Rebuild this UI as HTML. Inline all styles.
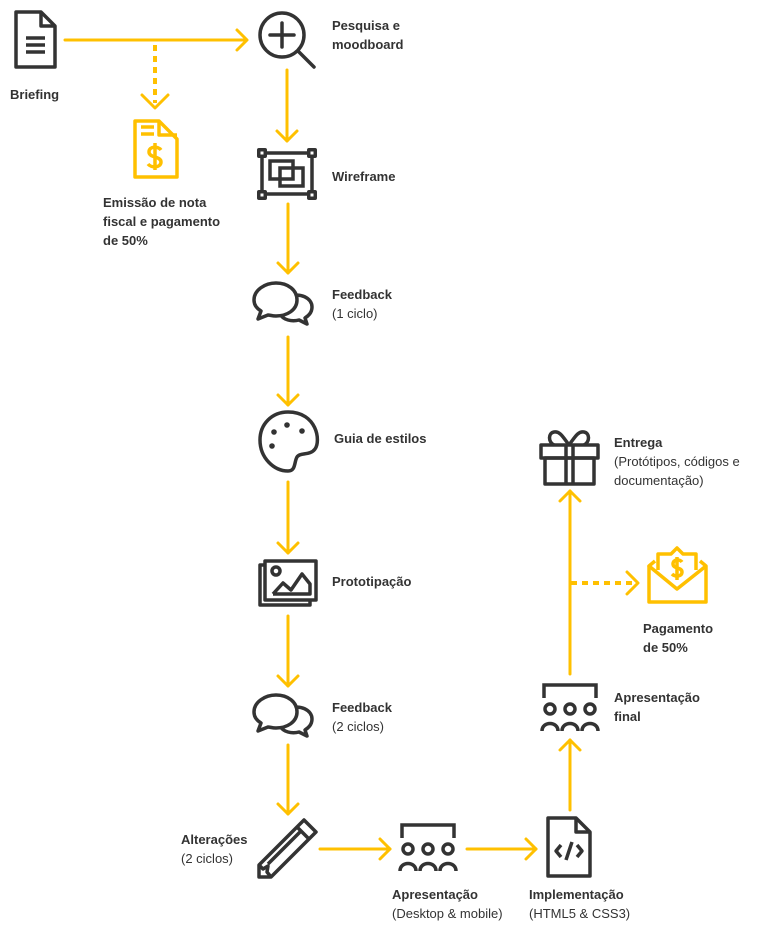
<!DOCTYPE html>
<html><head><meta charset="utf-8"><style>
html,body{margin:0;padding:0;background:#fff;}
svg{display:block;}
text{font-family:"Liberation Sans",sans-serif;font-size:13px;fill:#333;}
.b{font-weight:bold;}
</style></head><body>
<svg width="763" height="935" viewBox="0 0 763 935" xmlns="http://www.w3.org/2000/svg">
<g fill="none" stroke="#FFC000" stroke-width="3" stroke-linecap="round" stroke-linejoin="round">
<line x1="65" y1="40" x2="246" y2="40"/><polyline points="237,30 247,40 237,50"/>
<line x1="155" y1="45" x2="155" y2="103" stroke-dasharray="6,5" stroke-linecap="butt" stroke-width="4"/><polyline points="142,95 155,108 168,95"/>
<line x1="287" y1="70" x2="287" y2="141"/><polyline points="277,131 287,141 297,131"/>
<line x1="288" y1="204" x2="288" y2="273"/><polyline points="278,263 288,273 298,263"/>
<line x1="288" y1="337" x2="288" y2="405"/><polyline points="278,395 288,405 298,395"/>
<line x1="288" y1="482" x2="288" y2="553"/><polyline points="278,543 288,553 298,543"/>
<line x1="288" y1="616" x2="288" y2="686"/><polyline points="278,676 288,686 298,676"/>
<line x1="288" y1="745" x2="288" y2="814"/><polyline points="278,804 288,814 298,804"/>
<line x1="320" y1="849" x2="390" y2="849"/><polyline points="380,839 390,849 380,859"/>
<line x1="467" y1="849" x2="536" y2="849"/><polyline points="526,839 536,849 526,859"/>
<line x1="570" y1="810" x2="570" y2="740"/><polyline points="560,750 570,740 580,750"/>
<line x1="570" y1="674" x2="570" y2="491"/><polyline points="560,501 570,491 580,501"/>
<line x1="571" y1="583" x2="634" y2="583" stroke-dasharray="6,5" stroke-linecap="butt" stroke-width="4"/><polyline points="627,572 638,583 627,594"/>
</g>

<g fill="none" stroke="#333" stroke-width="3.5" stroke-linejoin="round">
<path d="M16,12 H41 L55,26 V67 H16 Z"/><path d="M41,12 V26 H55"/>
<line x1="26" y1="38" x2="45" y2="38"/><line x1="26" y1="45" x2="45" y2="45"/><line x1="26" y1="52" x2="45" y2="52"/>
</g>
<g fill="none" stroke="#FFC000" stroke-width="3.5" stroke-linejoin="round">
<path d="M135,121 H159 L177,139 V177 H135 Z"/><path d="M159,121 V135 H177"/>
<line x1="141" y1="127" x2="154" y2="127"/><line x1="141" y1="134" x2="154" y2="134"/>
<path d="M161,150 C158,146 149,146 149,152 C149,158 161,156 161,162 C161,168 151,168 148,164"/><line x1="155" y1="143" x2="155" y2="170"/>
</g>
<g fill="none" stroke="#333" stroke-width="3.5" stroke-linecap="round">
<circle cx="282" cy="35" r="22"/><line x1="282" y1="23" x2="282" y2="47"/><line x1="270" y1="35" x2="294" y2="35"/>
<line x1="298" y1="51" x2="314" y2="67"/>
</g>
<g fill="none" stroke="#333" stroke-width="3.5">
<rect x="262" y="153" width="50" height="41"/>
<rect x="270" y="161" width="23" height="18"/><rect x="280" y="168" width="23" height="18"/>
</g>
<g fill="#333"><rect x="257" y="148" width="10" height="10" rx="2"/><rect x="307" y="148" width="10" height="10" rx="2"/><rect x="257" y="190" width="10" height="10" rx="2"/><rect x="307" y="190" width="10" height="10" rx="2"/></g>
<g fill="#fff"><rect x="260.5" y="151.5" width="3" height="3"/><rect x="310.5" y="151.5" width="3" height="3"/><rect x="260.5" y="193.5" width="3" height="3"/><rect x="310.5" y="193.5" width="3" height="3"/></g>
<g id="fb" fill="#fff" stroke="#333" stroke-width="3.5" stroke-linejoin="round">
<path d="M289,297 C300,292 312,298 312,307 C312,313 308,316 305,318 L307,324 L299,320 C292,322 283,320 280,314"/>
<path d="M254,300 C254,290 265,283 276,283 C288,283 297,290 297,300 C297,310 287,316 276,316 C272,316 270,315 268,315 L258,319 L261,311 C256,308 254,304 254,300 Z"/>
</g>
<use href="#fb" transform="translate(0,412)"/>
<g fill="none" stroke="#333" stroke-width="3.5" stroke-linejoin="round">
<path d="M288,412 C272,412 260,424 260,440 C260,458 274,471 288,471 C296,471 294,462 297,457 C300,452 310,456 315,449 C321,441 317,412 288,412 Z"/>
</g>
<g fill="#333"><circle cx="274" cy="432" r="2.8"/><circle cx="287" cy="425" r="2.8"/><circle cx="302" cy="431" r="2.8"/><circle cx="272" cy="446" r="2.8"/></g>
<g fill="none" stroke="#333" stroke-width="3.5" stroke-linejoin="round">
<path d="M264,565 H260 V605 H310 V601"/>
<rect x="265" y="561" width="51" height="39"/>
<circle cx="276" cy="571" r="4"/>
<polyline points="273,594 283,583 291,590 302,574 310,584 310,594 273,594"/>
</g>
<g fill="none" stroke="#333" stroke-width="3.5" stroke-linejoin="round">
<path d="M304,820 L316,832 L271,877 L259,877 L259,865 Z"/>
<line x1="297" y1="827" x2="309" y2="839"/><line x1="300" y1="832" x2="268" y2="864"/>
<path d="M259,865 L263,869 L268,866 L267,872 L271,877"/>
</g>
<g id="au" fill="none" stroke="#333" stroke-width="3.5">
<polyline points="402,838 402,825 454,825 454,838"/>
<circle cx="408" cy="849" r="5"/><circle cx="428" cy="849" r="5"/><circle cx="448" cy="849" r="5"/>
<path d="M400,871 C400,861 416,861 416,871"/><path d="M420,871 C420,861 436,861 436,871"/><path d="M440,871 C440,861 456,861 456,871"/>
</g>
<use href="#au" transform="translate(142,-140)"/>
<g fill="none" stroke="#333" stroke-width="3.5" stroke-linejoin="round">
<path d="M548,818 H576 L590,832 V876 H548 Z"/><path d="M576,818 V832 H590"/>
<polyline points="561,845 556,851 561,857"/><polyline points="577,845 582,851 577,857"/><line x1="572" y1="842" x2="566" y2="860"/>
</g>
<g fill="none" stroke="#333" stroke-width="3.5" stroke-linejoin="round">
<rect x="541" y="445" width="57" height="13"/><rect x="545" y="458" width="49" height="26"/>
<line x1="566" y1="445" x2="566" y2="484"/><line x1="573" y1="445" x2="573" y2="484"/>
<path d="M569,445 C563,437 560,431 554,432 C548,433 548,442 554,445"/>
<path d="M569,445 C575,437 578,431 584,432 C590,433 590,442 584,445"/>
</g>
<g fill="none" stroke="#FFC000" stroke-width="3.5" stroke-linejoin="round">
<path d="M649,566 L649,602 H706 V566 L700,561"/><path d="M655,561 L649,566 L677,589 L706,566"/>
<path d="M658,570 V554 H671 L677,548 L683,554 H696 V570"/>
<path d="M682,562 C680,559 673,559 673,564 C673,569 682,567 682,572 C682,577 675,577 672,574"/><line x1="677" y1="557" x2="677" y2="580"/>
</g>
<text class="b" x="10" y="99">Briefing</text>
<text class="b" x="103" y="207">Emissão de nota</text>
<text class="b" x="103" y="226">fiscal e pagamento</text>
<text class="b" x="103" y="245">de 50%</text>
<text class="b" x="332" y="30">Pesquisa e</text>
<text class="b" x="332" y="49">moodboard</text>
<text class="b" x="332" y="181">Wireframe</text>
<text class="b" x="332" y="299">Feedback</text>
<text x="332" y="318">(1 ciclo)</text>
<text class="b" x="334" y="443">Guia de estilos</text>
<text class="b" x="332" y="586">Prototipação</text>
<text class="b" x="332" y="712">Feedback</text>
<text x="332" y="731">(2 ciclos)</text>
<text class="b" x="181" y="844">Alterações</text>
<text x="181" y="863">(2 ciclos)</text>
<text class="b" x="392" y="899">Apresentação</text>
<text x="392" y="918">(Desktop &amp; mobile)</text>
<text class="b" x="529" y="899">Implementação</text>
<text x="529" y="918">(HTML5 &amp; CSS3)</text>
<text class="b" x="614" y="702">Apresentação</text>
<text class="b" x="614" y="721">final</text>
<text class="b" x="643" y="633">Pagamento</text>
<text class="b" x="643" y="652">de 50%</text>
<text class="b" x="614" y="447">Entrega</text>
<text x="614" y="466">(Protótipos, códigos e</text>
<text x="614" y="485">documentação)</text>
</svg>
</body></html>
